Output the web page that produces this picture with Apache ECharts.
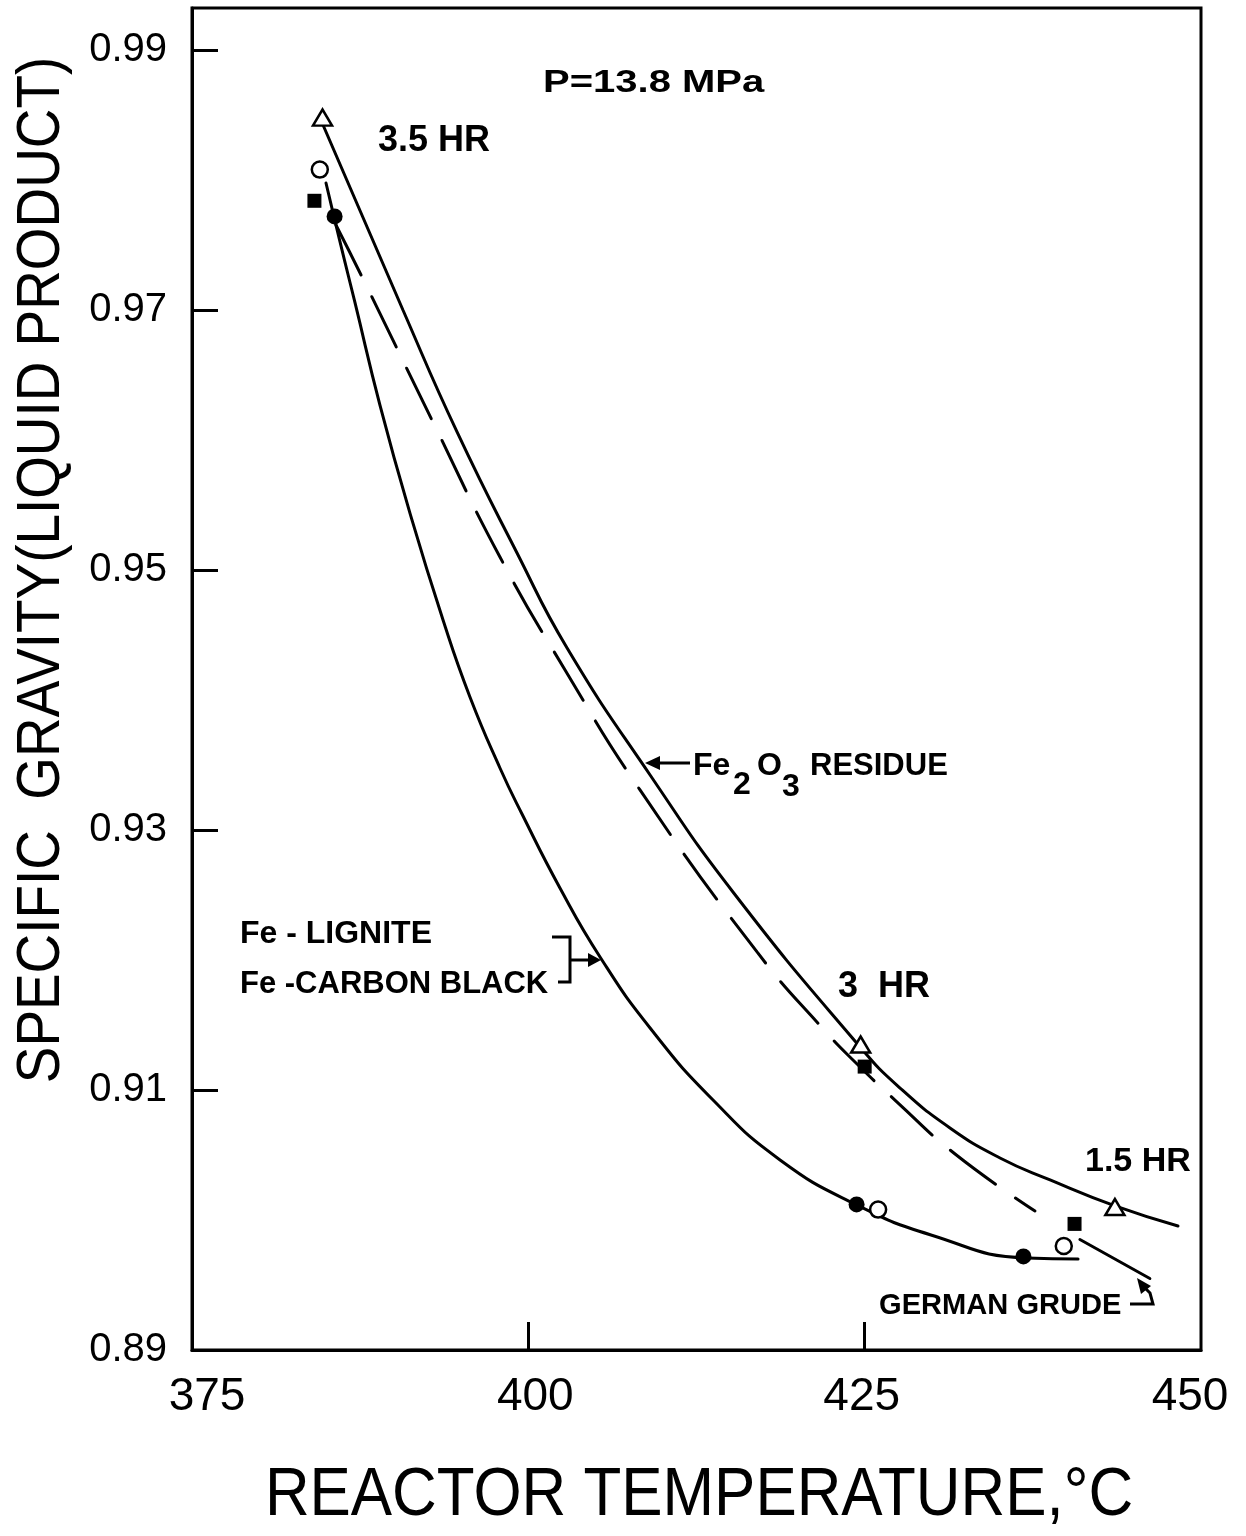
<!DOCTYPE html>
<html>
<head>
<meta charset="utf-8">
<script src="https://cdn.jsdelivr.net/npm/echarts@6/dist/echarts.min.js"></script>
<style>
  html, body { margin: 0; padding: 0; background: #fff; }
  #chart { width: 1246px; height: 1536px; }
</style>
</head>
<body>
<div id="chart"></div>
<script>
// Axis ticks
const xTickLabels = [375, 400, 425, 450];
const xTickMarks = [400, 425];
const yTickLabels = [0.89, 0.91, 0.93, 0.95, 0.97, 0.99];
const yTickMarks = [0.91, 0.93, 0.95, 0.97, 0.99];

// Measured points: [reactor temperature °C, specific gravity]
const fe2o3Residue = [[384.7, 0.9848], [424.7, 0.9135], [443.6, 0.9010]];
const feLignite = [[384.5, 0.9808], [426.0, 0.9008], [439.8, 0.8980]];
const germanCrude = [[384.1, 0.9784], [425.0, 0.9118], [440.6, 0.8997]];
const feCarbonBlack = [[385.6, 0.9772], [424.4, 0.9012], [436.8, 0.8972]];

// Hand-fitted curves through the runs
const residueCurve = [
  [384.74, 0.98423], [390.68, 0.97000], [394.70, 0.96062], [399.16, 0.95131],
  [402.88, 0.94400], [409.05, 0.93423], [415.21, 0.92523], [424.66, 0.91331],
  [427.63, 0.91015], [431.34, 0.90708], [435.06, 0.90477], [438.78, 0.90308],
  [443.61, 0.90108], [448.29, 0.89954]
];
const crudeCurve = [
  [385.70, 0.97654], [387.64, 0.97254], [392.91, 0.96138], [397.89, 0.95100],
  [402.73, 0.94231], [408.30, 0.93308], [417.00, 0.92062], [421.98, 0.91462],
  [424.51, 0.91192], [427.33, 0.90915], [431.72, 0.90508], [437.66, 0.90069]
];
const crudeCurveTail = [[441.0, 0.8985], [446.2, 0.8955]];
const ironCatalystCurve = [
  [384.96, 0.97977], [385.56, 0.97715], [386.37, 0.97369], [387.12, 0.97054],
  [388.97, 0.96269], [391.20, 0.95438], [393.66, 0.94615], [395.66, 0.94023],
  [397.89, 0.93477], [399.53, 0.93123], [402.35, 0.92554], [405.33, 0.92023],
  [409.05, 0.91477], [413.73, 0.90923], [418.71, 0.90462], [424.43, 0.90115],
  [429.93, 0.89885], [437.07, 0.89708], [440.86, 0.89700]
];

const INK = '#000';
const FONT = '"Liberation Sans", Arial, sans-serif';

// hand-lettered x labels sit slightly off their ticks
const xLabelStyle = { fontSize: 46, fontFamily: FONT, color: INK };
const xLabelRich = {
  t375: Object.assign({ padding: [0, 0, 0, 30] }, xLabelStyle),
  t400: Object.assign({ padding: [0, 0, 0, 14] }, xLabelStyle),
  t425: Object.assign({ padding: [0, 6, 0, 0] }, xLabelStyle),
  t450: Object.assign({ padding: [0, 22, 0, 0] }, xLabelStyle)
};

function curve(data, dashed) {
  return {
    type: 'line', data: data, smooth: 0.5, showSymbol: false, z: 2,
    silent: true,
    lineStyle: { color: INK, width: 3, type: dashed ? [56, 24] : 'solid', cap: 'round', opacity: 1 }
  };
}
function points(data, symbol, size, filled) {
  return {
    type: 'scatter', data: data, symbol: symbol, symbolSize: size, z: 5,
    itemStyle: filled
      ? { color: INK, borderColor: INK, borderWidth: 0, opacity: 1 }
      : { color: '#fff', borderColor: INK, borderWidth: 2.5, opacity: 1 }
  };
}
function label(text, x, y, size, opts) {
  opts = opts || {};
  return {
    type: 'text', x: x, y: y, z: 10, scaleX: opts.scaleX || 1, rotation: opts.rotation || 0,
    style: {
      text: text, fill: INK,
      font: (opts.weight || 'bold') + ' ' + size + 'px ' + FONT,
      textAlign: opts.align || 'left', textVerticalAlign: 'middle'
    }
  };
}
function stroke(type, shape) {
  return { type: type, z: 10, shape: shape, style: { stroke: INK, lineWidth: 3, fill: null } };
}
function head(pts) {
  return { type: 'polygon', z: 10, shape: { points: pts }, style: { fill: INK } };
}

const chart = echarts.init(document.getElementById('chart'), null, { renderer: 'canvas' });
chart.setOption({
  animation: false,
  backgroundColor: '#fff',
  grid: {
    left: 192, top: 8, width: 1009, height: 1342,
    show: true, borderColor: INK, borderWidth: 3, backgroundColor: 'transparent'
  },
  xAxis: {
    type: 'value', min: 375, max: 450,
    axisLine: { show: true, lineStyle: { color: INK, width: 3 } },
    axisTick: { show: true, inside: true, length: 28, customValues: xTickMarks, lineStyle: { color: INK, width: 3 } },
    axisLabel: {
      customValues: xTickLabels, color: INK, fontSize: 46, fontFamily: FONT, margin: 24,
      formatter: function (v) { return '{t' + Math.round(v) + '|' + Math.round(v) + '}'; },
      rich: xLabelRich
    },
    splitLine: { show: false }
  },
  yAxis: {
    type: 'value', min: 0.89, max: 0.99323,
    axisLine: { show: true, lineStyle: { color: INK, width: 3 } },
    axisTick: { show: true, inside: true, length: 26, customValues: yTickMarks, lineStyle: { color: INK, width: 3 } },
    axisLabel: {
      customValues: yTickLabels, color: INK, fontSize: 40, fontFamily: FONT, margin: 25,
      formatter: function (v) { return Number(v).toFixed(2); }
    },
    splitLine: { show: false }
  },
  series: [
    curve(residueCurve, false),
    curve(crudeCurve, true),
    curve(crudeCurveTail, false),
    curve(ironCatalystCurve, false),
    points(fe2o3Residue, 'triangle', [19, 16], false),
    points(feLignite, 'circle', 16, false),
    points(germanCrude, 'rect', 14, true),
    points(feCarbonBlack, 'circle', 16, true)
  ],
  graphic: [
    // axis titles
    label('SPECIFIC  GRAVITY(LIQUID PRODUCT)', 42, 570, 62, { weight: 'normal', align: 'center', rotation: Math.PI / 2, scaleX: 0.885 }),
    label('REACTOR TEMPERATURE,°C', 699, 1496, 68, { weight: 'normal', align: 'center', scaleX: 0.91 }),
    // run conditions
    label('P=13.8 MPa', 543, 83, 32, { scaleX: 1.25 }),
    label('3.5 HR', 378, 141, 36),
    label('3  HR', 838, 987, 36),
    label('1.5 HR', 1085, 1162, 34),
    // Fe2O3 residue callout
    label('Fe', 693, 766, 32),
    label('2', 733, 785, 32),
    label('O', 757, 766, 32),
    label('3', 782, 787, 32),
    label('RESIDUE', 810, 766, 31),
    stroke('line', { x1: 690, y1: 763, x2: 656, y2: 763 }),
    head([[645, 763], [660, 756], [660, 770]]),
    // iron catalyst callout
    label('Fe - LIGNITE', 240, 934, 32),
    label('Fe -CARBON BLACK', 240, 984, 31),
    stroke('polyline', { points: [[552, 937], [570, 937], [570, 982], [558, 982]] }),
    stroke('line', { x1: 570, y1: 960, x2: 590, y2: 960 }),
    head([[601, 960], [588, 953], [588, 967]]),
    // German crude callout
    label('GERMAN GRUDE', 879, 1306, 30, { scaleX: 0.97 }),
    stroke('polyline', { points: [[1130, 1304], [1153, 1304], [1150, 1293], [1146, 1289]] }),
    head([[1137, 1278], [1151, 1286], [1141, 1294]])
  ]
});
</script>
</body>
</html>
